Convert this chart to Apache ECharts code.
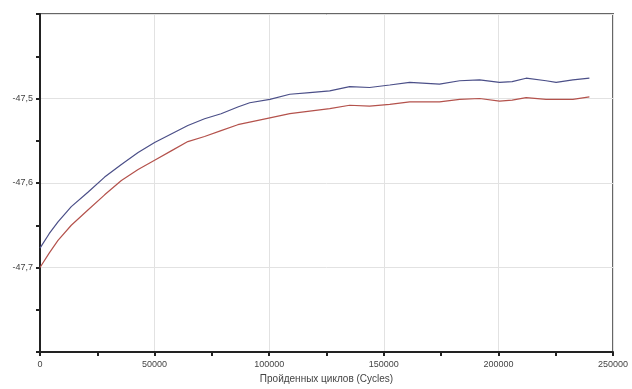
<!DOCTYPE html>
<html>
<head>
<meta charset="utf-8">
<script src="https://cdn.jsdelivr.net/npm/echarts@6/dist/echarts.min.js"></script>
<style>
  html, body { margin: 0; padding: 0; background: #fff; }
  #main { width: 632px; height: 389px; }
</style>
</head>
<body>
<div id="main"></div>
<script>
// cycles passed (x) and the two measured curves (y)
const cycles = [0, 4000, 7850, 13650, 20900, 28200, 35500, 42800, 50000, 57250, 64500, 71800, 79000, 86300,
  91500, 100300, 109000, 117700, 126400, 135100, 143800, 152600, 161300, 168700, 174300, 183100,
  191800, 200500, 206000, 212100, 220800, 225200, 232500, 239700];
const blueSeries = [-47.677, -47.660, -47.646, -47.628, -47.611, -47.593, -47.578, -47.564, -47.552, -47.542,
  -47.532, -47.524, -47.518, -47.510, -47.505, -47.501, -47.495, -47.493, -47.491, -47.486, -47.487,
  -47.484, -47.481, -47.482, -47.483, -47.479, -47.478, -47.481, -47.480, -47.476, -47.479, -47.481,
  -47.478, -47.476];
const redSeries = [-47.700, -47.683, -47.668, -47.650, -47.632, -47.614, -47.597, -47.584, -47.573, -47.562,
  -47.551, -47.545, -47.538, -47.531, -47.528, -47.523, -47.518, -47.515, -47.512, -47.508, -47.509,
  -47.507, -47.504, -47.504, -47.504, -47.501, -47.500, -47.503, -47.502, -47.499, -47.501, -47.501,
  -47.501, -47.498];
const xName = 'Пройденных циклов (Cycles)';

const pairs = (ys) => cycles.map((c, i) => [c, ys[i]]);

const chart = echarts.init(document.getElementById('main'));
const labelFont = { fontFamily: 'Liberation Sans', fontSize: 9, color: '#444' };

const option = {
  animation: false,
  grid: {
    left: 40, right: 19, top: 14, bottom: 36,
    show: true, borderColor: '#666', borderWidth: 2
  },
  xAxis: {
    type: 'value',
    min: 0, max: 250000, interval: 50000,
    name: xName,
    nameLocation: 'middle',
    nameGap: 22,
    nameTextStyle: { fontFamily: 'Liberation Sans', fontSize: 10, color: '#444' },
    axisLine: { show: true, lineStyle: { color: '#222', width: 2 } },
    axisTick: { show: true, length: 4, lineStyle: { color: '#222', width: 2 } },
    minorTick: { show: true, splitNumber: 2, length: 4, lineStyle: { color: '#222', width: 2 } },
    axisLabel: Object.assign({ margin: 8, formatter: (v) => String(v) }, labelFont),
    splitLine: { show: true, lineStyle: { color: '#e2e2e2', width: 1 } }
  },
  yAxis: {
    type: 'value',
    min: -47.8, max: -47.4, interval: 0.1,
    axisLine: { show: true, lineStyle: { color: '#222', width: 2 } },
    axisTick: { show: true, length: 4, lineStyle: { color: '#222', width: 2 } },
    minorTick: { show: true, splitNumber: 2, length: 4, lineStyle: { color: '#222', width: 2 } },
    axisLabel: Object.assign({
      margin: 7,
      showMinLabel: false,
      showMaxLabel: false,
      formatter: (v) => v.toFixed(1).replace('.', ',')
    }, labelFont),
    splitLine: { show: true, lineStyle: { color: '#e2e2e2', width: 1 } }
  },
  series: [
    {
      name: 'blue', type: 'line', symbol: 'none',
      data: pairs(blueSeries),
      lineStyle: { color: '#4b4f88', width: 1.2 }
    },
    {
      name: 'red', type: 'line', symbol: 'none',
      data: pairs(redSeries),
      lineStyle: { color: '#b4524c', width: 1.2 }
    }
  ]
};

chart.setOption(option);
</script>
</body>
</html>
